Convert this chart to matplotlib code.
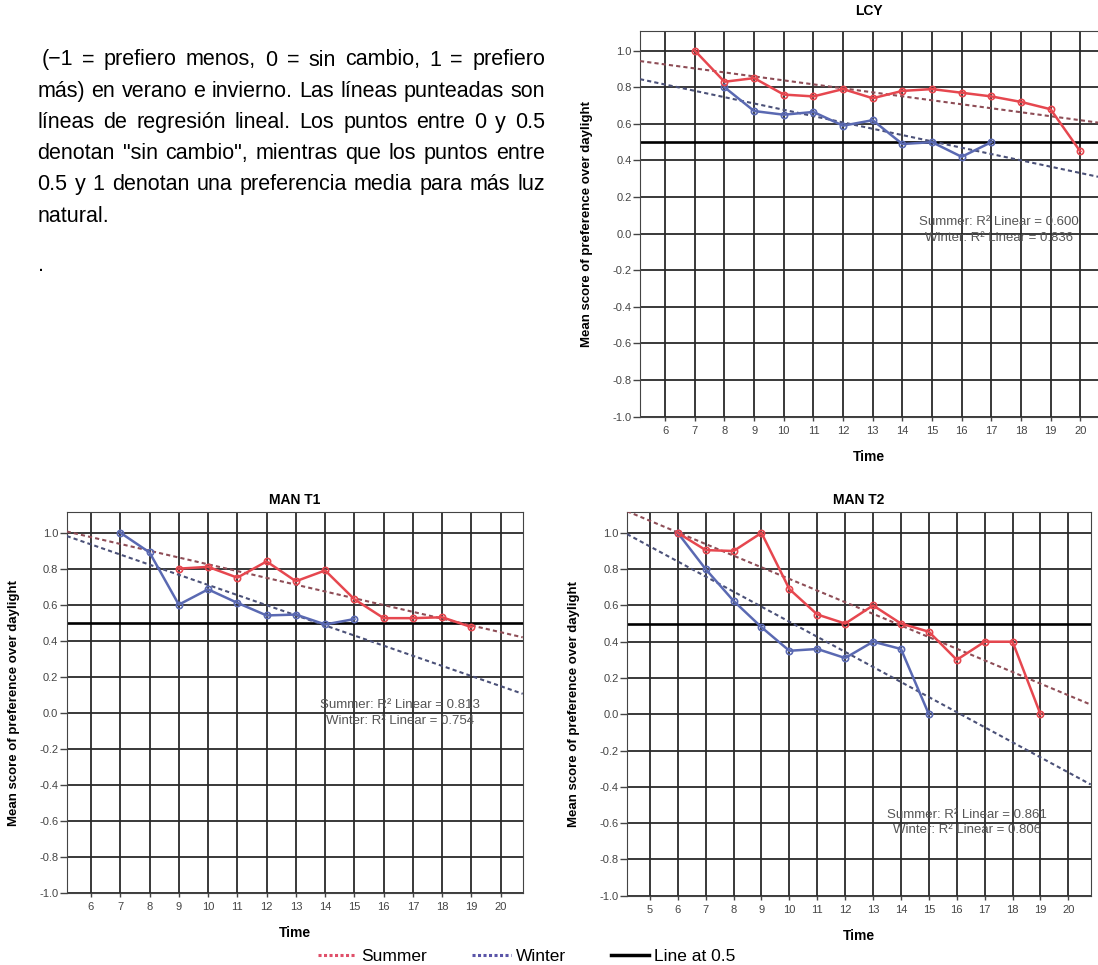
import matplotlib
matplotlib.use('Agg')
import matplotlib.pyplot as plt
from matplotlib.lines import Line2D
from matplotlib import font_manager
import numpy as np

plt.rcParams['font.family'] = ['Liberation Sans', 'DejaVu Sans']

# --- data ---
lcy_summer_x = [7, 8, 9, 10, 11, 12, 13, 14, 15, 16, 17, 18, 19, 20]
lcy_summer_y = [1.0, 0.83, 0.85, 0.76, 0.75, 0.79, 0.74, 0.78, 0.79, 0.77, 0.75, 0.72, 0.68, 0.45]
lcy_winter_x = [8, 9, 10, 11, 12, 13, 14, 15, 16, 17]
lcy_winter_y = [0.80, 0.67, 0.65, 0.665, 0.59, 0.62, 0.49, 0.50, 0.42, 0.50]

t1_summer_x = [9, 10, 11, 12, 13, 14, 15, 16, 17, 18, 19]
t1_summer_y = [0.80, 0.81, 0.75, 0.84, 0.73, 0.79, 0.63, 0.525, 0.525, 0.53, 0.475]
t1_winter_x = [7, 8, 9, 10, 11, 12, 13, 14, 15]
t1_winter_y = [1.0, 0.89, 0.60, 0.685, 0.61, 0.54, 0.545, 0.49, 0.52]

t2_summer_x = [6, 7, 8, 9, 10, 11, 12, 13, 14, 15, 16, 17, 18, 19]
t2_summer_y = [1.0, 0.905, 0.90, 1.0, 0.69, 0.55, 0.50, 0.60, 0.50, 0.455, 0.30, 0.40, 0.40, 0.0]
t2_winter_x = [6, 7, 8, 9, 10, 11, 12, 13, 14, 15]
t2_winter_y = [1.0, 0.80, 0.625, 0.48, 0.35, 0.36, 0.31, 0.40, 0.36, 0.0]

r2_lcy = ["0.600", "0.836"]
r2_t1 = ["0.813", "0.754"]
r2_t2 = ["0.861", "0.806"]

y_ticks = [-1.0, -0.8, -0.6, -0.4, -0.2, 0.0, 0.2, 0.4, 0.6, 0.8, 1.0]
y_ticklabels = ["-1.0", "-0.8", "-0.6", "-0.4", "-0.2", "0.0", "0.2", "0.4", "0.6", "0.8", "1.0"]

para_lines = [
    " (\u22121 = prefiero menos, 0 = sin cambio, 1 = prefiero",
    "más) en verano e invierno. Las líneas punteadas son",
    "líneas de regresión lineal. Los puntos entre 0 y 0.5",
    'denotan "sin cambio", mientras que los puntos entre',
    "0.5 y 1 denotan una preferencia media para más luz",
]
para_tail = ["natural.", "."]

SUMMER = '#e6474f'
WINTER = '#5a69b2'
SUMMER_FIT = '#8e4d56'
WINTER_FIT = '#4b5178'

W, H = 1098, 965
fig = plt.figure(figsize=(W / 100, H / 100), dpi=100)


def px_axes(left, top, right, bottom):
    return fig.add_axes([left / W, 1 - bottom / H, (right - left) / W, (bottom - top) / H])


def panel(ax, title, xlim, ytop, xticks, sx, sy, wx, wy, r2, r2_x, r2_y, title_pad=6):
    ax.set_xlim(xlim)
    ax.set_ylim(-1.0, ytop)
    ax.set_xticks(xticks)
    ax.set_yticks(y_ticks)
    ax.set_yticklabels(y_ticklabels)
    ax.set_axisbelow(True)
    ax.grid(True, color='#2a2a2a', lw=1.3)
    ax.axhline(0.5, color='black', lw=1.9, zorder=2)

    # linear fits over the whole x range
    xs = np.array(xlim)
    ps = np.polyfit(sx, sy, 1)
    pw = np.polyfit(wx, wy, 1)
    ax.plot(xs, np.polyval(ps, xs), color=SUMMER_FIT, lw=1.5, ls=(0, (2, 1.5)), zorder=3)
    ax.plot(xs, np.polyval(pw, xs), color=WINTER_FIT, lw=1.5, ls=(0, (2, 1.5)), zorder=3)

    ax.plot(wx, wy, color=WINTER, lw=1.8, marker='o', ms=4.5, mfc='none', mew=1.2, zorder=4)
    ax.plot(sx, sy, color=SUMMER, lw=1.8, marker='o', ms=4.5, mfc='none', mew=1.2, zorder=5)

    ax.text(r2_x, r2_y + 0.012, "Summer: R\u00b2 Linear = " + r2[0], ha='center', va='center',
            fontsize=9.5, color='#555555', zorder=6)
    ax.text(r2_x, r2_y - 0.075, "Winter: R\u00b2 Linear = " + r2[1], ha='center', va='center',
            fontsize=9.5, color='#555555', zorder=6)

    for s in ax.spines.values():
        s.set_color('#444444')
    ax.tick_params(axis='y', direction='out', length=5, width=1, pad=1,
                   labelsize=8, colors='#444444')
    ax.tick_params(axis='x', direction='out', length=3, width=1, pad=4,
                   labelsize=8, colors='#444444')
    ax.set_title(title, fontsize=10, fontweight='bold', pad=title_pad)
    ax.set_ylabel('Mean score of preference over daylight', fontsize=9.5, fontweight='bold')
    ax.set_xlabel('Time', fontsize=10, fontweight='bold')
    bb = ax.get_position()
    ax.yaxis.set_label_coords(-47 / (bb.width * W), 0.5)
    ax.xaxis.set_label_coords(0.5, -33 / (bb.height * H))


ax1 = px_axes(640, 30.7, 1098, 416.7)
panel(ax1, 'LCY', (5.15, 20.6), 1.109, list(range(6, 21)),
      lcy_summer_x, lcy_summer_y, lcy_winter_x, lcy_winter_y, r2_lcy, 17.26, 0.05,
      title_pad=11)
ax1.spines['right'].set_visible(False)

ax2 = px_axes(66.7, 512.3, 522.7, 892.7)
panel(ax2, 'MAN T1', (5.17, 20.75), 1.113, list(range(6, 21)),
      t1_summer_x, t1_summer_y, t1_winter_x, t1_winter_y, r2_t1, 16.56, 0.03)

ax3 = px_axes(627, 512, 1090.7, 895.7)
panel(ax3, 'MAN T2', (4.18, 20.8), 1.115, list(range(5, 21)),
      t2_summer_x, t2_summer_y, t2_winter_x, t2_winter_y, r2_t2, 16.36, -0.565)

# legend under the bottom charts
handles = [
    Line2D([], [], color='#e0506a', lw=2.2, ls=(0, (1, 0.8))),
    Line2D([], [], color='#5a55a8', lw=2.2, ls=(0, (1, 0.8))),
    Line2D([], [], color='black', lw=2.5),
]
fig.legend(handles, ['Summer', 'Winter', 'Line at 0.5'], loc='center',
           bbox_to_anchor=(527 / W, 1 - 956 / H), ncol=3, frameon=False,
           fontsize=12.5, handlelength=2.2, handletextpad=0.3, columnspacing=2.6,
           borderpad=0)

# paragraph, justified between two pixel columns
try:
    font_manager.findfont(font_manager.FontProperties(family='Liberation Sans Narrow'),
                          fallback_to_default=False)
    para_family = ['Liberation Sans Narrow', 'Liberation Sans', 'DejaVu Sans']
except ValueError:
    para_family = ['Liberation Sans', 'DejaVu Sans']
target_fs = 15.5

left_px, right_px = 37.5, 545
line_y = [60, 91.5, 122.5, 153.5, 184.5, 217]
tail_y = [217, 265.5]

renderer = fig.canvas.get_renderer()


def word_widths(words, fs):
    arts = [fig.text(0, 0, w, fontsize=fs, family=para_family) for w in words]
    ws = [a.get_window_extent(renderer).width for a in arts]
    for a in arts:
        a.remove()
    return ws


# shrink the size until every line fits with a minimal gap
fs = target_fs
for line in para_lines:
    words = line.split()
    ws = word_widths(words, 10)
    need = sum(ws) + (len(words) - 1) * 10 * 100 / 72 * 0.2
    fs = min(fs, 10 * (right_px - left_px - 3) / need)

for i, line in enumerate(para_lines):
    words = line.split()
    ws = word_widths(words, fs)
    x0 = left_px + (4 if i == 0 else 0)
    gap = (right_px - x0 - sum(ws)) / (len(words) - 1)
    x = x0
    for w, wd in zip(words, ws):
        fig.text(x / W, 1 - line_y[i] / H, w, fontsize=fs, family=para_family, va='center')
        x += wd + gap

fig.text(left_px / W, 1 - tail_y[0] / H, para_tail[0], fontsize=fs, family=para_family, va='center')
fig.text(left_px / W, 1 - tail_y[1] / H, para_tail[1], fontsize=fs, family=para_family, va='center')

fig.savefig('out.png', dpi=100)
